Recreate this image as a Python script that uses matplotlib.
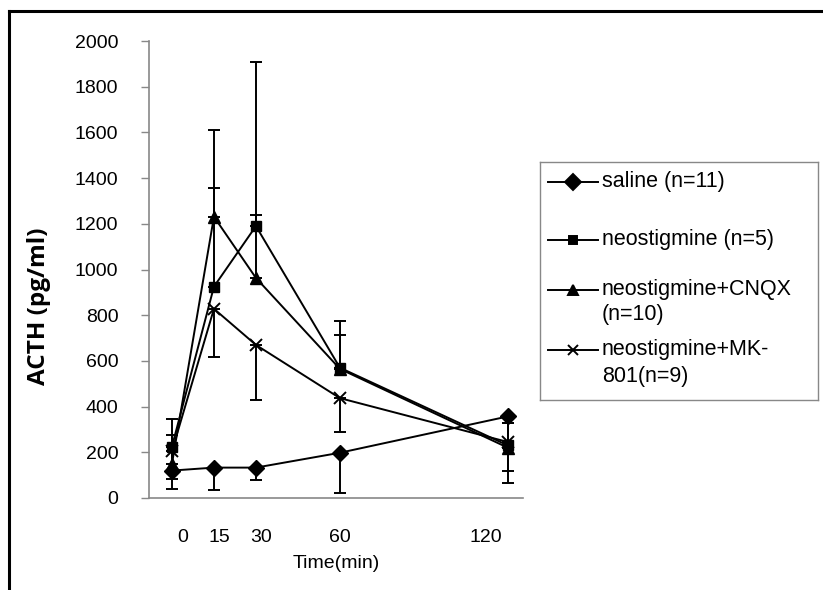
import matplotlib.pyplot as plt
from matplotlib.lines import Line2D

plt.rcParams['font.family'] = ['Liberation Sans', 'DejaVu Sans']

# Дано: время (мин) и средние значения ACTH (pg/ml)
time_min = [0, 15, 30, 60, 120]

saline = [120, 133, 133, 198, 357]
saline_err_down = [80, 98, 53, 178, 290]

neo = [225, 925, 1190, 570, 230]
neo_err_up = [119, 430, 717, 206, 100]

cnqx = [150, 1231, 963, 565, 220]
cnqx_err_up = [126, 380, 277, 150, 110]

mk801 = [205, 828, 670, 437, 245]
mk801_err_down = [123, 211, 241, 147, 125]

# подписи оси X в Excel стоят со смещением
tick_pos = [4, 17, 32, 60, 112]
tick_labels = ['0', '15', '30', '60', '120']
y_ticks = list(range(0, 2001, 200))

W, H = 823, 590
fig = plt.figure(figsize=(W / 100, H / 100), dpi=100)
ax = fig.add_axes([149 / W, 1 - 498 / H, 374 / W, 457 / H])

zeros = [0] * len(time_min)
style = dict(color='black', lw=1.4, ecolor='black', elinewidth=1.4,
             capsize=4.5, capthick=1.4, mec='black', mfc='black')

ax.errorbar(time_min, saline, yerr=[saline_err_down, zeros], marker='D', ms=8, **style)
ax.errorbar(time_min, neo, yerr=[zeros, neo_err_up], marker='s', ms=6.5, **style)
ax.errorbar(time_min, cnqx, yerr=[zeros, cnqx_err_up], marker='^', ms=8, **style)
ax.errorbar(time_min, mk801, yerr=[mk801_err_down, zeros], marker='x', ms=8, mew=1.4,
            **{k: v for k, v in style.items() if k not in ('mec', 'mfc')})

ax.set_xlim(-8.2, 125.4)
ax.set_ylim(0, 2000)
ax.set_yticks(y_ticks)
ax.set_xticks(tick_pos)
ax.set_xticklabels(tick_labels)
ax.tick_params(axis='x', length=0, pad=22, labelsize=14)
ax.tick_params(axis='y', length=6, width=1, color='#888888', pad=16, labelsize=14)
for s in ['top', 'right']:
    ax.spines[s].set_visible(False)
for s in ['left', 'bottom']:
    ax.spines[s].set_color('#888888')
    ax.spines[s].set_linewidth(1.2)
ax.set_xlabel('Time(min)', fontsize=14, labelpad=7)

fig.text(39 / W, 1 - 306 / H, 'ACTH (pg/ml)', rotation=90, ha='center', va='center',
         fontsize=17.5, fontweight='bold', family=['Open Sans', 'DejaVu Sans'])

# Легенда (как в Excel)
lax = fig.add_axes([540 / W, 1 - 400 / H, 278 / W, 238 / H])
lax.set_xlim(0, 278)
lax.set_ylim(238, 0)
lax.set_xticks([])
lax.set_yticks([])
for s in lax.spines.values():
    s.set_color('#888888')
    s.set_linewidth(1)

legend_rows = [
    ('D', 8, ['saline (n=11)'], [20]),
    ('s', 6, ['neostigmine (n=5)'], [78]),
    ('^', 7.5, ['neostigmine+CNQX', '(n=10)'], [128, 153]),
    ('x', 7.5, ['neostigmine+MK-', '801(n=9)'], [188, 215]),
]
for mk, size, lines, ys in legend_rows:
    lax.plot([8, 58], [ys[0], ys[0]], color='black', lw=1.4)
    lax.plot([33], [ys[0]], marker=mk, ms=size, color='black', mew=1.4)
    for txt, yy in zip(lines, ys):
        lax.text(62, yy, txt, fontsize=15.5, va='center', ha='left')

# рамка рисунка
fig.add_artist(Line2D([9 / W, 9 / W], [0, 1 - 11 / H], color='black', lw=2.2,
                      transform=fig.transFigure))
fig.add_artist(Line2D([9 / W, 1], [1 - 11 / H, 1 - 11 / H], color='black', lw=2.2,
                      transform=fig.transFigure))

fig.savefig('out.png', dpi=100)
